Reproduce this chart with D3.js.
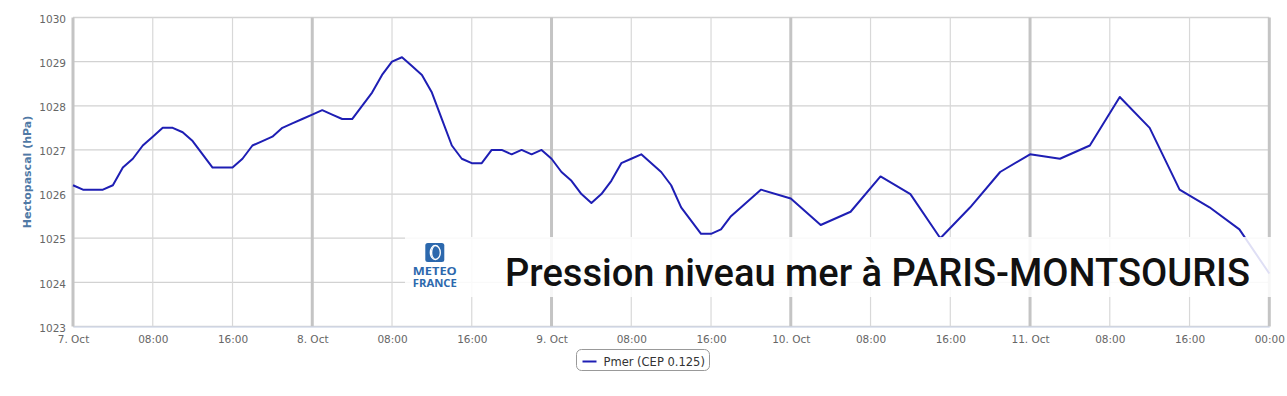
<!DOCTYPE html>
<html>
<head>
<meta charset="utf-8">
<script src="https://cdn.jsdelivr.net/npm/d3@7"></script>
<style>
  body { margin: 0; background: #fff; }
  #chart { position: absolute; left: 0; top: 0; }
</style>
</head>
<body>
<div id="chart"></div>
<script>
// series: hours since 7 Oct 00:00 UTC and sea-level pressure (hPa)
var startDate = "2021-10-07T00:00:00Z";
var hoursFromStart = [0, 1, 2, 3, 4, 5, 6, 7, 8, 9, 10, 11, 12, 13, 14, 15, 16, 17, 18, 19,
  20, 21, 22, 23, 24, 25, 26, 27, 28, 29, 30, 31, 32, 33, 34, 35, 36, 37, 38, 39,
  40, 41, 42, 43, 44, 45, 46, 47, 48, 49, 50, 51, 52, 53, 54, 55, 56, 57, 59, 60,
  61, 63, 64, 65, 66, 69, 72, 75, 78, 81, 84, 87, 90, 93, 96, 99, 102, 105, 108, 111,
  114, 117, 120];
var pmer = [1026.2, 1026.1, 1026.1, 1026.1, 1026.2, 1026.6, 1026.8, 1027.1, 1027.3, 1027.5,
  1027.5, 1027.4, 1027.2, 1026.9, 1026.6, 1026.6, 1026.6, 1026.8, 1027.1, 1027.2,
  1027.3, 1027.5, 1027.6, 1027.7, 1027.8, 1027.9, 1027.8, 1027.7, 1027.7, 1028.0,
  1028.3, 1028.7, 1029.0, 1029.1, 1028.9, 1028.7, 1028.3, 1027.7, 1027.1, 1026.8,
  1026.7, 1026.7, 1027.0, 1027.0, 1026.9, 1027.0, 1026.9, 1027.0, 1026.8, 1026.5,
  1026.3, 1026.0, 1025.8, 1026.0, 1026.3, 1026.7, 1026.8, 1026.9, 1026.5, 1026.2,
  1025.7, 1025.1, 1025.1, 1025.2, 1025.5, 1026.1, 1025.9, 1025.3, 1025.6, 1026.4,
  1026.0, 1025.0, 1025.7, 1026.5, 1026.9, 1026.8, 1027.1, 1028.2, 1027.5, 1026.1,
  1025.7, 1025.2, 1024.2];

// axis ticks
var xTickHours = [0, 8, 16, 24, 32, 40, 48, 56, 64, 72, 80, 88, 96, 104, 112, 120];
var xTickLabels = ["7. Oct", "08:00", "16:00", "8. Oct", "08:00", "16:00", "9. Oct", "08:00",
  "16:00", "10. Oct", "08:00", "16:00", "11. Oct", "08:00", "16:00", "00:00"];
var yTicks = [1023, 1024, 1025, 1026, 1027, 1028, 1029, 1030];

var seriesName = "Pmer (CEP 0.125)";
var yTitle = "Hectopascal (hPa)";
var chartTitle = "Pression niveau mer à PARIS-MONTSOURIS";

var W = 1287, H = 396;
var margin = {top: 17.5, right: 10, bottom: 69.5, left: 73};
var width = 1269.3 - margin.left;
var height = H - margin.top - margin.bottom;

var t0 = new Date(startDate);
function hToDate(h) { return new Date(t0.getTime() + h * 3600000); }

var data = hoursFromStart.map(function(h, i) { return {t: hToDate(h), v: pmer[i]}; });

var svg = d3.select("#chart").append("svg")
  .attr("width", W)
  .attr("height", H)
  .style("font-family", "'DejaVu Sans', sans-serif");

var g = svg.append("g")
  .attr("transform", "translate(" + margin.left + "," + margin.top + ")");

var x = d3.scaleUtc()
  .domain([hToDate(0), hToDate(120)])
  .range([0, width]);

var y = d3.scaleLinear()
  .domain([1023, 1030])
  .range([height, 0]);

// horizontal grid
g.append("g").selectAll("line")
  .data(yTicks)
  .enter().append("line")
  .attr("x1", 0)
  .attr("x2", width)
  .attr("y1", function(d) { return y(d); })
  .attr("y2", function(d) { return y(d); })
  .attr("stroke", "#d2d2d2")
  .attr("stroke-width", 1.3);

// vertical grid, thicker at midnight
g.append("g").selectAll("line")
  .data(xTickHours)
  .enter().append("line")
  .attr("x1", function(d) { return x(hToDate(d)); })
  .attr("x2", function(d) { return x(hToDate(d)); })
  .attr("y1", 0)
  .attr("y2", height)
  .attr("stroke", function(d) { return d % 24 === 0 ? "#c4c4c4" : "#d8d8d8"; })
  .attr("stroke-width", function(d) { return d % 24 === 0 ? 3 : 1.2; });

// x axis
var xAxis = d3.axisBottom(x)
  .tickValues(xTickHours.map(hToDate))
  .tickSize(0)
  .tickPadding(9)
  .tickFormat(function(d, i) { return xTickLabels[i]; });

var gx = g.append("g")
  .attr("transform", "translate(0," + height + ")")
  .call(xAxis);
gx.select(".domain").attr("stroke", "#ccd6eb").attr("stroke-width", 1.2);
gx.selectAll("text")
  .attr("fill", "#666")
  .style("font-size", "10.5px")
  .style("font-family", "'DejaVu Sans', sans-serif");

// y axis
var yAxis = d3.axisLeft(y)
  .tickValues(yTicks)
  .tickSize(0)
  .tickPadding(7)
  .tickFormat(d3.format("d"));

var gy = g.append("g").call(yAxis);
gy.select(".domain").remove();
gy.selectAll("text")
  .attr("fill", "#666")
  .attr("dy", "0.45em")
  .style("font-size", "10.5px")
  .style("font-family", "'DejaVu Sans', sans-serif");

svg.append("text")
  .attr("transform", "translate(31," + (margin.top + height / 2) + ") rotate(-90)")
  .attr("text-anchor", "middle")
  .attr("fill", "#5079a5")
  .style("font-size", "11px")
  .style("font-weight", "bold")
  .text(yTitle);

// the series line
var line = d3.line()
  .x(function(d) { return x(d.t); })
  .y(function(d) { return y(d.v); });

g.append("path")
  .datum(data)
  .attr("d", line)
  .attr("fill", "none")
  .attr("stroke", "#1e1eb4")
  .attr("stroke-width", 2)
  .attr("stroke-linejoin", "round");

// title banner over the plot
svg.append("rect")
  .attr("x", 405)
  .attr("y", 237)
  .attr("width", 882)
  .attr("height", 60)
  .attr("fill", "#fff")
  .attr("fill-opacity", 0.86);

// Meteo-France logo
var logo = svg.append("g").attr("transform", "translate(434.8,0)");
logo.append("rect")
  .attr("x", -9.5).attr("y", 243)
  .attr("width", 19).attr("height", 19)
  .attr("rx", 2.5)
  .attr("fill", "#2c68ad");
logo.append("ellipse")
  .attr("cx", 0.5).attr("cy", 252.5)
  .attr("rx", 5).attr("ry", 7)
  .attr("fill", "none")
  .attr("stroke", "#fff")
  .attr("stroke-width", 1.3);
logo.append("path")
  .attr("d", "M1,246 A5,6.5 0 0,0 1,259 A3.5,6.5 0 0,1 1,246 Z")
  .attr("fill", "#fff");
logo.selectAll("text.logo")
  .data(["METEO", "FRANCE"])
  .enter().append("text")
  .attr("class", "logo")
  .attr("x", -22)
  .attr("y", function(d, i) { return 274.5 + i * 12.2; })
  .attr("textLength", 44)
  .attr("lengthAdjust", "spacingAndGlyphs")
  .attr("fill", "#2c68ad")
  .style("font-family", "'Open Sans', 'DejaVu Sans', sans-serif")
  .style("font-size", "10px")
  .style("font-weight", "bold")
  .text(function(d) { return d; });

var title = svg.append("text")
  .attr("x", 505)
  .attr("y", 286)
  .attr("fill", "#111")
  .style("font-family", "Roboto, sans-serif")
  .style("font-weight", "500")
  .style("font-size", "38px")
  .text(chartTitle);
// fit the title to the width it takes in the original banner
var tw = title.node().getComputedTextLength();
title.style("font-size", (38 * 745 / tw) + "px");

// legend
var legend = svg.append("g").attr("transform", "translate(576.5,349.5)");
legend.append("rect")
  .attr("width", 133)
  .attr("height", 21)
  .attr("rx", 5)
  .attr("fill", "#fff")
  .attr("stroke", "#999");
legend.append("line")
  .attr("x1", 6).attr("x2", 20)
  .attr("y1", 12).attr("y2", 12)
  .attr("stroke", "#1e1eb4")
  .attr("stroke-width", 2);
legend.append("text")
  .attr("x", 27)
  .attr("y", 16)
  .attr("fill", "#333")
  .style("font-size", "11.5px")
  .text(seriesName);
</script>
</body>
</html>
